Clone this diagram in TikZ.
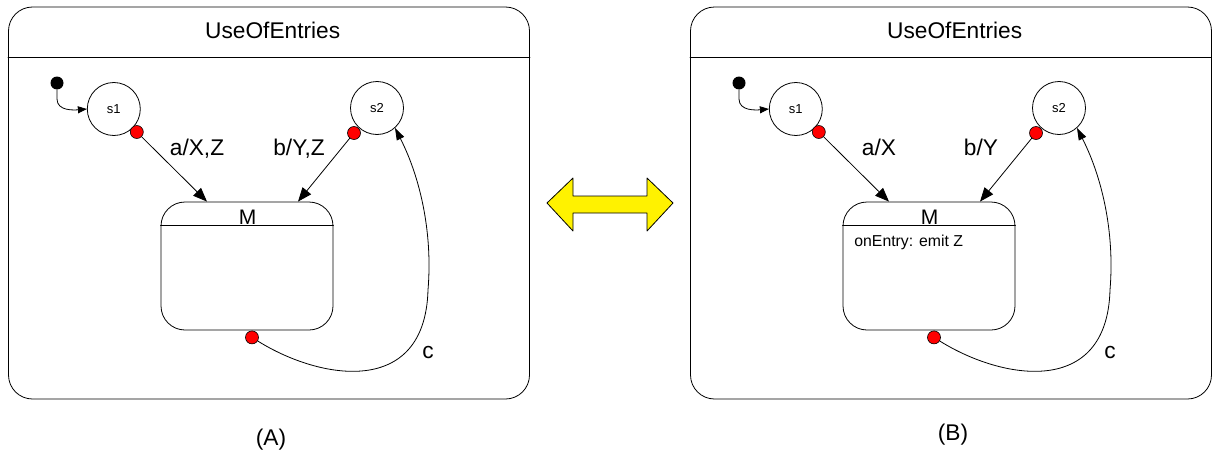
\documentclass[tikz,border=0pt]{standalone}
\usepackage{fontspec}
\setmainfont{Liberation Sans}
\usetikzlibrary{arrows.meta}

\begin{document}
\begin{tikzpicture}[x=1pt, y=-1pt, line width=0.8pt, line cap=round, line join=round,
    big/.style={font=\fontsize{22.7}{27}\selectfont, inner sep=0pt},
    chart/.style={draw, rounded corners=24pt, minimum width=521pt, minimum height=392pt, inner sep=0pt},
    simple/.style={draw, circle, minimum size=53pt, inner sep=0pt, font=\fontsize{13}{15}\selectfont},
    macro/.style={draw, rounded corners=24pt, minimum width=172pt, minimum height=128pt, inner sep=0pt},
    initdot/.style={circle, fill=black, minimum size=13pt, inner sep=0pt},
    exitdot/.style={circle, draw, fill=red, minimum size=13pt, inner sep=0pt, line width=0.6pt},
    trans/.style={-{Triangle[length=14pt, width=11pt]}},
    back/.style={-{Triangle[length=12pt, width=8pt]}},
    init/.style={-{Triangle[length=9pt, width=7pt]}}]
  \useasboundingbox (0,0) rectangle (1212,455);
  % (A)
  \node[chart] (boxA) at (269,203) {};
  \draw (boxA.west |- 0,57) -- (boxA.east |- 0,57);
  \node[big, anchor=base] (titleA) at (272.7,38.3) {UseOfEntries};
  \node[initdot] (iA) at (57,83) {};
  \node[simple] (s1A) at (113.8,109) {s1};
  \node[simple] (s2A) at (377,108) {s2};
  \node[macro] (mA) at (247,266) {};
  \draw (mA.west |- 0,225) -- (mA.east |- 0,225);
  \node[anchor=base, font=\fontsize{21}{25}\selectfont, inner sep=0pt] (mtA) at (247.6,224) {M};
  \node[exitdot] (o1A) at ([shift={(23,23)}]s1A.center) {};
  \node[exitdot] (o2A) at ([shift={(-23,25)}]s2A.center) {};
  \node[exitdot] (o3A) at ([shift={(5,7)}]mA.south) {};
  \draw[init] (iA) -- ++(0,16) to[out=-90, in=185] (s1A.west);
  \draw[trans] (o1A) -- ([xshift=-40pt]mA.north);
  \draw[trans] (o2A) -- ([xshift=51pt]mA.north);
  \draw[back] (o3A) .. controls (320,380) and (425,398) .. (428,290)
    .. controls (433,230) and (419,175) .. (s2A.-48);
  \node[big, anchor=base] (laA) at (197,155) {a/X,Z};
  \node[big, anchor=base] (lbA) at (299,155) {b/Y,Z};
  \node[big, anchor=base] (lcA) at (428,358) {c};
  \node[big, anchor=base] (tagA) at (271,445) {(A)};
  % double arrow
  \filldraw[fill=yellow] (547,203) -- (573,178) -- (573,196) -- (647,196) -- (647,178)
    -- (673,203) -- (647,231) -- (647,213) -- (573,213) -- (573,231) -- cycle;
  % (B)
  \begin{scope}[xshift=682pt]
    \node[chart] (boxB) at (269,203) {};
    \draw (boxB.west |- 0,57) -- (boxB.east |- 0,57);
    \node[big, anchor=base] (titleB) at (272.7,38.3) {UseOfEntries};
    \node[initdot] (iB) at (57,83) {};
    \node[simple] (s1B) at (113.8,109) {s1};
    \node[simple] (s2B) at (377,108) {s2};
    \node[macro] (mB) at (247,266) {};
    \draw (mB.west |- 0,225) -- (mB.east |- 0,225);
    \node[anchor=base, font=\fontsize{21}{25}\selectfont, inner sep=0pt] (mtB) at (247.6,224) {M};
    \node[anchor=base west, font=\fontsize{15.8}{19}\selectfont, inner sep=0pt] (entB) at (172,246.7) {onEntry: emit Z};
    \node[exitdot] (o1B) at ([shift={(23,23)}]s1B.center) {};
    \node[exitdot] (o2B) at ([shift={(-23,25)}]s2B.center) {};
    \node[exitdot] (o3B) at ([shift={(5,7)}]mB.south) {};
    \draw[init] (iB) -- ++(0,16) to[out=-90, in=185] (s1B.west);
    \draw[trans] (o1B) -- ([xshift=-40pt]mB.north);
    \draw[trans] (o2B) -- ([xshift=51pt]mB.north);
    \draw[back] (o3B) .. controls (320,380) and (425,398) .. (428,290)
      .. controls (433,230) and (419,175) .. (s2B.-48);
    \node[big, anchor=base] (laB) at (197,155) {a/X};
    \node[big, anchor=base] (lbB) at (299,155) {b/Y};
    \node[big, anchor=base] (lcB) at (428,358) {c};
    \node[big, anchor=base] (tagB) at (271,440) {(B)};
  \end{scope}
\end{tikzpicture}
\end{document}
